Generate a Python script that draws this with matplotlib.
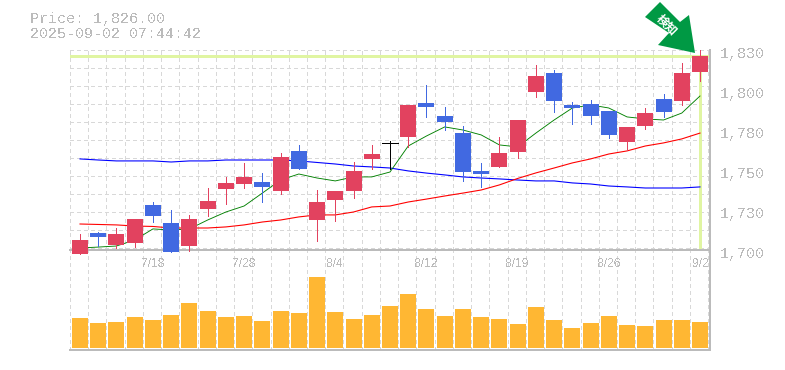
"""Daily candles with moving averages and a volume panel."""
import matplotlib
matplotlib.use("Agg")
import matplotlib.pyplot as plt
from matplotlib.patches import Polygon

plt.rcParams["font.family"] = ["Liberation Mono", "DejaVu Sans Mono"]
plt.rcParams["text.antialiased"] = False

W, H = 785, 370
LEFT, RIGHT, TOP, MID, BOTTOM = 70, 710, 50, 250, 350

opens = [1697.4, 1711.0, 1703.3, 1704.6, 1729.3, 1717.6, 1702.6, 1726.7, 1739.7, 1742.9,
         1744.2, 1738.4, 1764.4, 1719.5, 1732.5, 1738.4, 1759.2, 1769.6, 1773.5, 1795.6,
         1787.1, 1776.0, 1751.4, 1754.0, 1763.7, 1802.7, 1815.0, 1794.3, 1794.9, 1790.4,
         1770.2, 1780.6, 1798.2, 1796.9, 1815.7]
closes = [1706.5, 1708.5, 1710.4, 1720.2, 1722.1, 1698.7, 1720.2, 1731.9, 1743.6, 1747.5,
          1741.0, 1760.5, 1752.7, 1731.2, 1738.4, 1751.4, 1762.4, 1769.6, 1794.3, 1793.0,
          1783.2, 1750.7, 1749.4, 1763.0, 1784.5, 1813.1, 1796.9, 1792.3, 1787.1, 1774.8,
          1780.0, 1789.0, 1789.7, 1815.0, 1826.1]
highs = [1710.4, 1711.7, 1714.3, 1720.2, 1731.2, 1726.0, 1722.8, 1740.3, 1747.5, 1756.6,
         1750.0, 1763.0, 1768.3, 1739.0, 1738.4, 1757.2, 1768.3, 1770.9, 1794.3, 1807.3,
         1793.0, 1780.6, 1756.6, 1773.5, 1784.5, 1820.3, 1817.0, 1796.2, 1797.5, 1790.4,
         1780.0, 1792.3, 1801.4, 1821.6, 1830.0]
lows = [1697.4, 1702.6, 1701.3, 1702.0, 1718.2, 1698.7, 1699.4, 1722.1, 1729.9, 1740.3,
        1731.2, 1736.4, 1752.7, 1705.9, 1718.9, 1733.8, 1752.7, 1752.7, 1767.0, 1786.5,
        1778.0, 1744.9, 1741.0, 1754.0, 1759.8, 1799.5, 1789.7, 1781.9, 1781.9, 1772.8,
        1765.0, 1778.7, 1786.5, 1794.3, 1809.9]
ma_short = [1701.3, 1701.9, 1702.6, 1706.5, 1713.7, 1713.0, 1713.7, 1719.5, 1724.7, 1728.6,
            1737.0, 1745.5, 1749.4, 1746.8, 1744.9, 1747.5, 1747.5, 1750.7, 1767.6, 1774.1,
            1780.0, 1778.0, 1774.8, 1768.3, 1767.0, 1776.0, 1784.5, 1792.3, 1794.3, 1792.3,
            1786.5, 1785.2, 1784.5, 1789.0, 1800.1]
ma_mid = [1716.9, 1716.6, 1716.3, 1715.6, 1715.3, 1714.3, 1714.3, 1714.3, 1715.0, 1716.3,
          1718.2, 1719.5, 1721.5, 1722.8, 1722.8, 1724.7, 1728.0, 1728.6, 1731.2, 1733.1,
          1735.1, 1737.0, 1739.0, 1742.3, 1746.5, 1750.1, 1753.3, 1756.6, 1759.2, 1762.4,
          1764.4, 1767.6, 1769.6, 1772.2, 1776.0]
ma_long = [1759.2, 1758.5, 1757.9, 1757.9, 1757.9, 1757.2, 1757.9, 1757.9, 1758.5, 1758.5,
           1758.5, 1758.5, 1757.9, 1756.9, 1755.9, 1754.6, 1754.0, 1753.3, 1751.4, 1750.0,
           1748.8, 1747.5, 1746.8, 1746.2, 1745.5, 1744.9, 1744.9, 1743.6, 1742.9, 1741.6,
           1741.0, 1740.3, 1740.3, 1740.3, 1741.0]
volumes = [30, 25, 26, 31, 28, 33, 45, 37, 31, 32, 27, 37, 35, 71, 36, 29, 33, 42,
           54, 39, 32, 39, 31, 29, 24, 41, 28, 20, 25, 32, 23, 22, 28, 28, 26]

price_ticks = [1700, 1726, 1752, 1778, 1804, 1830]
price_labels = ["1,700", "1,730", "1,750", "1,780", "1,800", "1,830"]
date_pos = [4, 9, 14, 19, 24, 29, 34]
date_labels = ["7/18", "7/28", "8/4", "8/12", "8/19", "8/26", "9/2"]
last_price = 1826.1

UP, DOWN, FLAT = "#e2425f", "#4169e1", "#000000"
VOL = "#ffb733"
GRID, AXIS, TEXT = "#d8d8d8", "#bbbbbb", "#bbbbbb"
MARK = "#e0f5a2"
PX = 72 / 100  # one pixel in points
DASH = (0, (3, 3))


def main():
    fig = plt.figure(figsize=(W / 100, H / 100), dpi=100)
    ax = fig.add_axes([LEFT / W, 1 - MID / H, (RIGHT - LEFT) / W, (MID - TOP) / H])
    vax = fig.add_axes([LEFT / W, 1 - BOTTOM / H, (RIGHT - LEFT) / W, (BOTTOM - MID) / H])
    # candles hang below the price floor, so the price panel goes on top
    ax.set_zorder(2)
    ax.patch.set_visible(False)

    n = len(closes)
    xs = list(range(n))
    step = 18.235
    xlim = (-10 / step, (RIGHT - 80) / step)

    for a in (ax, vax):
        a.set_xlim(*xlim)
        a.set_xticks([])
        a.set_yticks([])
        for s in ("top", "left"):
            a.spines[s].set_visible(False)
        for s in ("right", "bottom"):
            a.spines[s].set_color(AXIS)
            a.spines[s].set_linewidth(2 * PX)
        for i in range(-1, n):
            a.axvline(i + 0.45, color=GRID, lw=PX, ls=DASH, zorder=1, antialiased=False)
        a.axvline(xlim[0], color=GRID, lw=PX, ls=DASH, zorder=1, antialiased=False, clip_on=False)

    ax.set_ylim(1700, 1830)
    for i in range(12):
        ax.axhline(1830 - i * 11.7, color=GRID, lw=PX, ls=DASH, zorder=1, antialiased=False,
                   clip_on=False)

    # last price marker lines
    ax.axhline(last_price, color=MARK, lw=3 * PX, zorder=2, antialiased=False)
    ax.plot([xs[-1], xs[-1]], [1701, last_price], color=MARK, lw=3 * PX, zorder=2, antialiased=False)

    ax.plot(xs, ma_long, color="#0000ff", lw=1.1 * PX, zorder=3)
    ax.plot(xs, ma_mid, color="#ff0000", lw=1.1 * PX, zorder=3)
    ax.plot(xs, ma_short, color="#008000", lw=0.9 * PX, zorder=3)

    width = 16 / step
    for i in xs:
        o, c = opens[i], closes[i]
        col = UP if c > o else DOWN if c < o else FLAT
        ax.plot([i, i], [lows[i], highs[i]], color=col, lw=0.9 * PX, zorder=4,
                clip_on=False, antialiased=False)
        if c == o:
            ax.plot([i - width / 2, i + width / 2], [c, c], color=col, lw=0.9 * PX, zorder=5,
                    antialiased=False)
        else:
            ax.bar(i, abs(c - o), bottom=min(o, c), width=width, color=col, zorder=5,
                   clip_on=False, antialiased=False)

    vax.set_ylim(-2, 98)
    vax.bar(xs, volumes, width=width, color=VOL, zorder=3, antialiased=False)

    for v, lab in zip(price_ticks, price_labels):
        ax.annotate(lab, (1, v), xycoords=("axes fraction", "data"), xytext=(10 * PX, -3.8 * PX),
                    textcoords="offset points", fontsize=15 * PX, color=TEXT, va="center",
                    annotation_clip=False)
    for p, lab in zip(date_pos, date_labels):
        ha = "right" if lab == "9/2" else "center"
        off = 9 * PX if lab == "9/2" else 0
        vax.annotate(lab, (p, 1), xycoords=("data", "axes fraction"), xytext=(off, -14 * PX),
                     textcoords="offset points", fontsize=12 * PX, color=TEXT, ha=ha, va="center",
                     family=["Liberation Sans", "DejaVu Sans"], annotation_clip=False)

    fig.text(30 / W, 1 - 18.5 / H, "Price: 1,826.00", fontsize=15 * PX, color=TEXT, va="center")
    fig.text(30 / W, 1 - 33.5 / H, "2025-09-02 07:44:42", fontsize=15 * PX, color=TEXT, va="center")

    # detection arrow above the last candle
    arrow = [(660, 2), (680, 22), (689, 15), (695, 53), (658, 45), (669, 33), (645, 17)]
    fig.add_artist(Polygon([(x / W, 1 - y / H) for x, y in arrow], closed=True,
                           transform=fig.transFigure, color="#009944", lw=0, zorder=6))
    fig.text(667 / W, 1 - 25 / H, "検知", family=["Noto Sans CJK JP", "DejaVu Sans"], weight="bold",
             fontsize=12 * PX, color="white", rotation=-45, ha="center", va="center", zorder=7,
             antialiased=True)

    fig.savefig("out.png", dpi=100)


if __name__ == "__main__":
    main()
